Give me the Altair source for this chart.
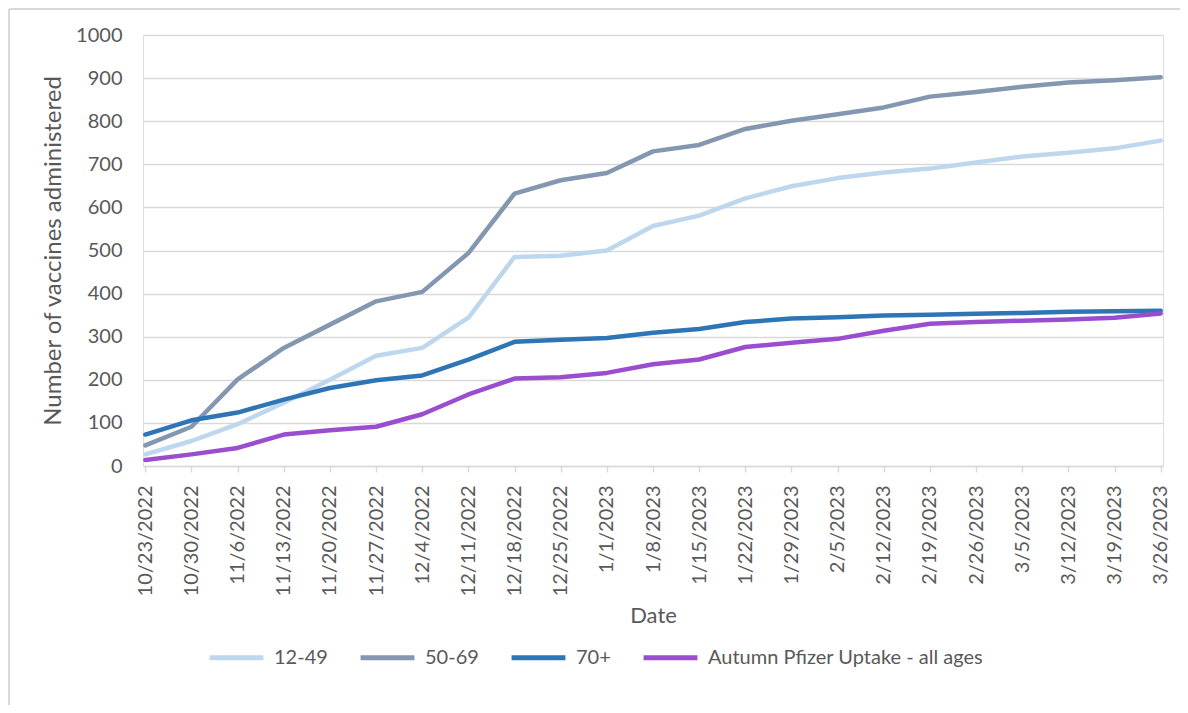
import altair as alt
import pandas as pd

dates = ["10/23/2022", "10/30/2022", "11/6/2022", "11/13/2022", "11/20/2022",
         "11/27/2022", "12/4/2022", "12/11/2022", "12/18/2022", "12/25/2022",
         "1/1/2023", "1/8/2023", "1/15/2023", "1/22/2023", "1/29/2023",
         "2/5/2023", "2/12/2023", "2/19/2023", "2/26/2023", "3/5/2023",
         "3/12/2023", "3/19/2023", "3/26/2023"]

s_12_49 = [27, 58, 97, 147, 200, 256, 274, 344, 485, 488, 500, 557, 581, 621,
           649, 668, 681, 690, 704, 718, 727, 737, 755]
s_50_69 = [48, 91, 201, 274, 328, 382, 404, 494, 632, 663, 680, 730, 745, 782,
           801, 816, 832, 857, 868, 880, 890, 895, 902]
s_70 = [73, 106, 124, 154, 181, 199, 210, 247, 288, 293, 297, 309, 318, 334,
        342, 345, 349, 351, 353, 355, 358, 359, 360]
s_pf = [14, 27, 42, 73, 83, 91, 120, 166, 203, 206, 216, 236, 247, 276,
        286, 295, 314, 330, 334, 337, 340, 344, 354]

series_names = ["12-49", "50-69", "70+", "Autumn Pfizer Uptake - all ages"]
series_colors = ["#BDD7EE", "#8497B0", "#2E75B6", "#9B4DCF"]

rows = []
for name, vals in zip(series_names, [s_12_49, s_50_69, s_70, s_pf]):
    for d, v in zip(dates, vals):
        rows.append({"Date": d, "value": v, "series": name, "order": series_names.index(name)})
df = pd.DataFrame(rows)

FONT = "Lato"
TXT = "#595959"
GRID = "#D9D9D9"

lines = alt.Chart(df).mark_line(strokeWidth=4.5, strokeCap="round", strokeJoin="round").encode(
    x=alt.X("Date:N", sort=dates, title="Date",
            scale=alt.Scale(type="point", padding=0.05),
            axis=alt.Axis(labelAngle=-90, labelFontSize=20, labelColor=TXT, labelFont=FONT,
                          titleFontSize=22, titleColor=TXT, titleFont=FONT, titleFontWeight="normal",
                          titlePadding=10, domainColor=GRID, domainWidth=1.5,
                          tickColor=GRID, tickWidth=1.5, tickSize=6, labelPadding=13,
                          grid=False)),
    y=alt.Y("value:Q", title="Number of vaccines administered",
            scale=alt.Scale(domain=[0, 1000], nice=False),
            axis=alt.Axis(values=list(range(0, 1001, 100)), format="d", labelFontSize=20,
                          labelColor=TXT, labelFont=FONT, titleFontSize=24, titleColor=TXT,
                          titleFont=FONT, titleFontWeight="normal", titlePadding=10,
                          domain=False, ticks=False,
                          labelPadding=21, gridColor=GRID, gridWidth=1.5)),
    color=alt.Color("series:N", sort=series_names,
                    scale=alt.Scale(domain=series_names, range=series_colors),
                    legend=alt.Legend(title=None, orient="none", direction="horizontal",
                                      legendX=64, legendY=593, labelLimit=0,
                                      symbolType="stroke", symbolSize=2900, symbolStrokeWidth=5,
                                      labelFontSize=20, labelColor=TXT, labelFont=FONT,
                                      labelOffset=8, columnPadding=22)),
    order=alt.Order("order:Q"),
)

frame = alt.Chart(pd.DataFrame({"k": [0]})).mark_rule(color="#D9D9D9", strokeWidth=2, clip=False).encode(
    x=alt.value(-134), y=alt.value(-26), y2=alt.value(680)
)
frame_top = alt.Chart(pd.DataFrame({"k": [0]})).mark_rule(color="#D9D9D9", strokeWidth=2, clip=False).encode(
    x=alt.value(-134), x2=alt.value(1040), y=alt.value(-26)
)

chart = alt.layer(frame, frame_top, lines).properties(
    width=1020, height=431,
    autosize=alt.AutoSizeParams(type="none"),
    padding={"left": 135, "top": 27, "right": 17, "bottom": 239},
).configure_view(stroke=None).configure(background="white")

chart.save("out.html", embed_options={"renderer": "svg", "actions": False})
